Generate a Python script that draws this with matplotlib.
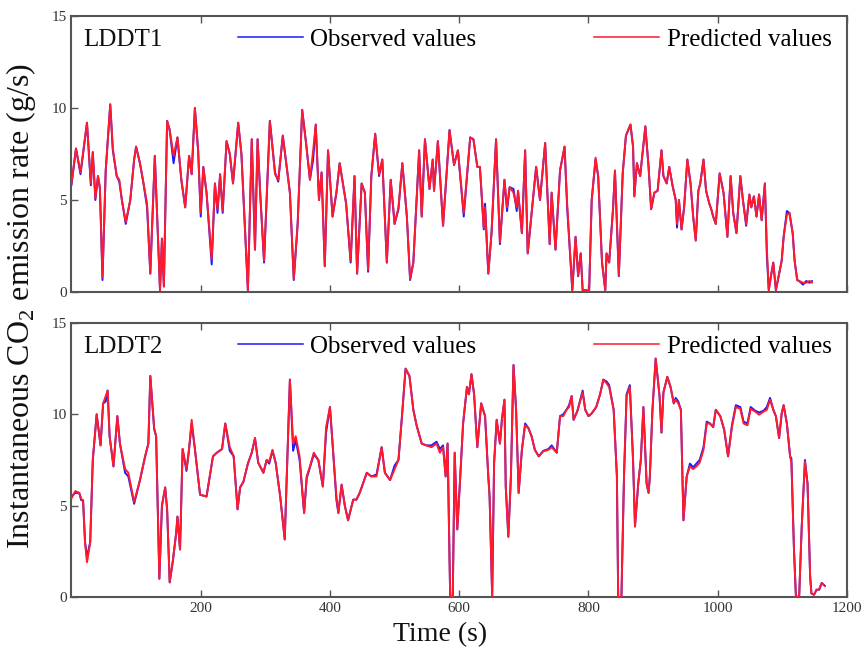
import matplotlib
matplotlib.use("Agg")
import matplotlib.pyplot as plt
from matplotlib.lines import Line2D

plt.rcParams['font.family'] = ['Liberation Serif', 'DejaVu Serif']
plt.rcParams['mathtext.fontset'] = 'custom'
plt.rcParams['mathtext.rm'] = 'Liberation Serif'

# ---- LDDT1 ----
t1 = [0, 7, 14, 24, 30, 33, 37, 41, 44, 48,
      53, 60, 64, 70, 74, 78, 84, 91, 97, 100,
      106, 111, 117, 122, 129, 137, 140, 143, 148, 152,
      158, 164, 170, 176, 182, 186, 191, 196, 200, 204,
      209, 217, 222, 226, 230, 234, 240, 245, 250, 258,
      263, 273, 279, 284, 288, 292, 298, 307, 315, 320,
      327, 333, 338, 344, 350, 357, 363, 369, 374, 378,
      383, 387, 392, 397, 404, 410, 415, 425, 432, 438,
      442, 449, 454, 459, 464, 470, 476, 481, 488, 494,
      500, 506, 512, 519, 524, 529, 538, 542, 547, 554,
      559, 561, 567, 575, 585, 592, 598, 607, 617, 622,
      628, 632, 638, 640, 645, 650, 657, 663, 670, 674,
      678, 684, 689, 691, 697, 702, 706, 711, 719, 725,
      733, 740, 743, 749, 756, 763, 767, 775, 780, 784,
      788, 791, 797, 801, 805, 811, 815, 821, 826, 828,
      832, 838, 841, 847, 853, 858, 865, 869, 871, 875,
      880, 888, 893, 897, 902, 907, 913, 916, 921, 925,
      930, 935, 937, 940, 944, 948, 953, 958, 962, 966,
      970, 973, 978, 982, 987, 990, 993, 997, 1003, 1009,
      1015, 1020, 1024, 1029, 1035, 1039, 1044, 1049, 1052, 1056,
      1060, 1064, 1068, 1073, 1076, 1079, 1083, 1086, 1090, 1095,
      1099, 1102, 1107, 1111, 1116, 1119, 1123, 1126, 1132, 1137,
      1142, 1146]

obs1 = [5.8, 7.8, 6.4, 9.2, 5.8, 7.6, 5.0, 6.3, 5.6, 0.65,
        6.6, 10.2, 7.7, 6.3, 6.0, 5.0, 3.7, 5.0, 7.2, 7.9,
        7.0, 6.0, 4.6, 1.0, 7.4, 0.1, 2.9, 0.3, 9.3, 8.8,
        7.0, 8.4, 6.1, 4.6, 7.4, 6.4, 10.0, 7.7, 4.1, 6.8,
        5.4, 1.5, 5.9, 4.3, 6.4, 4.3, 8.2, 7.5, 5.9, 9.2,
        7.5, 0.1, 8.3, 2.3, 8.3, 5.4, 1.6, 9.3, 6.5, 6.0,
        8.5, 6.8, 5.4, 0.65, 3.7, 9.9, 8.1, 6.1, 7.2, 9.1,
        5.0, 6.5, 1.4, 7.7, 4.1, 5.4, 7.0, 4.8, 1.6, 6.3,
        1.0, 5.9, 5.4, 1.1, 6.3, 8.6, 6.3, 7.2, 1.6, 6.1,
        3.7, 4.5, 7.0, 4.1, 0.65, 1.6, 7.7, 4.1, 8.3, 5.6,
        7.2, 5.5, 8.2, 3.6, 8.8, 6.9, 7.7, 4.1, 8.4, 8.3,
        6.8, 6.8, 3.4, 4.8, 1.0, 3.2, 8.3, 2.6, 6.1, 4.4,
        5.7, 5.6, 4.4, 5.5, 3.2, 7.7, 2.1, 3.9, 6.8, 5.0,
        8.1, 2.6, 5.4, 2.3, 6.6, 7.9, 4.6, 0.1, 3.0, 0.86,
        2.1, 0.1, 0.1, 0.0, 5.0, 7.2, 6.3, 1.6, 0.1, 2.1,
        1.6, 4.5, 6.6, 0.86, 6.45, 8.5, 9.1, 7.9, 5.2, 7.0,
        6.3, 9.0, 6.8, 4.5, 5.4, 5.5, 7.7, 6.3, 5.9, 6.8,
        5.8, 5.0, 3.5, 5.0, 3.4, 4.6, 7.2, 5.9, 4.1, 2.8,
        5.5, 5.9, 7.2, 5.5, 4.8, 4.5, 4.1, 3.7, 6.45, 5.4,
        3.0, 6.3, 4.3, 3.2, 6.3, 5.0, 3.6, 5.3, 4.6, 5.2,
        4.1, 5.3, 3.9, 5.9, 2.0, 0.1, 1.0, 1.6, 0.1, 1.0,
        1.7, 3.0, 4.4, 4.3, 3.2, 1.7, 0.65, 0.6, 0.4, 0.6,
        0.5, 0.6]

pred1 = [5.9, 7.8, 6.5, 9.2, 5.9, 7.6, 5.1, 6.3, 5.7, 0.8,
         6.6, 10.2, 7.8, 6.3, 6.1, 5.0, 3.8, 5.0, 7.2, 7.9,
         7.0, 6.0, 4.8, 1.0, 7.4, 0.1, 2.9, 0.3, 9.3, 8.8,
         7.4, 8.4, 6.1, 4.6, 7.4, 6.4, 10.0, 7.7, 4.3, 6.8,
         5.4, 1.8, 5.9, 4.5, 6.4, 4.4, 8.2, 7.5, 5.9, 9.2,
         7.5, 0.1, 8.3, 2.3, 8.3, 5.4, 1.7, 9.3, 6.4, 6.1,
         8.5, 6.8, 5.4, 0.7, 3.7, 9.9, 8.1, 6.1, 7.7, 9.1,
         5.0, 6.5, 1.4, 7.7, 4.1, 5.4, 7.0, 4.8, 1.7, 6.3,
         1.0, 5.9, 5.4, 1.2, 6.3, 8.6, 6.4, 7.2, 1.6, 6.1,
         3.7, 4.6, 7.0, 4.1, 0.7, 1.6, 7.7, 4.1, 8.3, 5.6,
         7.2, 5.5, 8.2, 3.6, 8.8, 6.9, 7.7, 4.3, 8.4, 8.3,
         6.8, 6.8, 3.5, 4.6, 1.0, 3.2, 8.3, 2.7, 6.1, 4.6,
         5.7, 5.4, 4.6, 5.5, 3.2, 7.7, 2.1, 3.9, 6.8, 5.0,
         8.1, 2.6, 5.4, 2.3, 6.6, 7.9, 4.8, 0.1, 3.0, 0.9,
         2.1, 0.1, 0.1, 0.0, 5.0, 7.3, 6.3, 1.6, 0.1, 2.1,
         1.6, 4.5, 6.6, 0.9, 6.45, 8.5, 9.1, 7.9, 5.2, 7.0,
         6.3, 9.0, 6.8, 4.5, 5.4, 5.5, 7.7, 6.3, 5.9, 6.8,
         5.8, 5.0, 3.7, 5.0, 3.4, 4.6, 7.2, 5.9, 4.1, 2.8,
         5.5, 5.9, 7.2, 5.5, 4.8, 4.5, 4.1, 3.7, 6.45, 5.4,
         3.0, 6.3, 4.3, 3.2, 6.3, 5.0, 3.7, 5.3, 4.6, 5.2,
         4.1, 5.3, 3.9, 5.9, 2.4, 0.1, 1.0, 1.6, 0.1, 1.0,
         1.7, 3.0, 4.2, 4.3, 3.2, 1.7, 0.65, 0.6, 0.5, 0.5,
         0.6, 0.5]

# ---- LDDT2 ----
t2 = [0, 6, 12, 15, 18, 21, 24, 29, 33, 39,
      45, 49, 53, 56, 59, 65, 71, 75, 83, 88,
      97, 106, 114, 119, 122, 128, 131, 136, 140, 145,
      148, 152, 157, 162, 164, 168, 172, 178, 182, 186,
      191, 199, 209, 219, 225, 233, 238, 245, 251, 257,
      261, 266, 273, 279, 284, 289, 297, 302, 306, 311,
      316, 323, 330, 338, 343, 347, 353, 360, 364, 369,
      375, 382, 389, 394, 400, 405, 410, 413, 418, 423,
      428, 436, 441, 446, 457, 464, 472, 480, 485, 493,
      500, 506, 511, 517, 523, 529, 534, 542, 549, 557,
      565, 570, 575, 579, 582, 586, 590, 593, 597, 601,
      606, 612, 615, 619, 623, 628, 634, 640, 645, 647,
      651, 654, 658, 663, 666, 670, 672, 676, 680, 684,
      688, 692, 697, 702, 707, 712, 717, 723, 730, 738,
      743, 751, 756, 761, 766, 770, 774, 777, 783, 791,
      795, 800, 805, 812, 818, 823, 828, 832, 839, 844,
      846, 851, 855, 859, 864, 869, 872, 877, 881, 885,
      890, 893, 895, 899, 904, 910, 913, 916, 922, 927,
      932, 935, 939, 943, 947, 952, 957, 962, 967, 972,
      978, 983, 988, 993, 997, 1004, 1010, 1016, 1022, 1028,
      1035, 1040, 1046, 1051, 1058, 1064, 1071, 1076, 1081, 1086,
      1090, 1095, 1099, 1102, 1107, 1112, 1114, 1118, 1121, 1126,
      1130, 1135, 1139, 1143, 1145, 1149, 1153, 1157, 1161, 1166]

obs2 = [5.5, 5.7, 5.7, 5.3, 5.3, 3.0, 2.2, 3.0, 7.5, 10.0,
        8.3, 10.6, 10.7, 11.3, 8.8, 7.15, 9.9, 8.4, 6.8, 6.6,
        5.1, 6.4, 7.7, 8.4, 12.1, 9.2, 8.8, 1.0, 5.0, 6.0,
        4.8, 0.8, 2.0, 3.5, 4.4, 2.6, 8.1, 6.9, 8.1, 9.5,
        8.1, 5.6, 5.5, 7.7, 7.9, 8.1, 9.5, 8.0, 7.7, 4.8,
        6.0, 6.3, 7.3, 7.9, 8.7, 7.35, 6.8, 7.5, 7.3, 8.0,
        7.35, 5.5, 3.15, 11.9, 8.0, 8.6, 7.5, 4.6, 6.5, 7.1,
        7.8, 7.5, 6.05, 9.0, 10.4, 7.9, 5.3, 4.6, 6.15, 5.0,
        4.2, 5.33, 5.33, 5.7, 6.8, 6.6, 6.7, 8.2, 6.8, 6.4,
        7.2, 7.5, 9.7, 12.5, 12.1, 10.25, 9.4, 8.4, 8.3, 8.3,
        8.5, 8.1, 8.3, 6.6, 8.4, 0.03, 0.0, 7.9, 3.7, 6.2,
        9.5, 11.5, 11.1, 12.2, 11.1, 8.2, 10.6, 9.9, 6.6, 5.5,
        0.03, 7.35, 9.7, 8.4, 9.7, 10.8, 6.05, 3.3, 6.6, 12.7,
        10.25, 5.7, 8.06, 9.5, 9.25, 8.8, 8.06, 7.7, 8.0, 8.1,
        8.3, 7.9, 9.9, 10.0, 10.25, 10.5, 11.0, 9.7, 10.2, 11.3,
        10.25, 9.9, 10.05, 10.4, 11.1, 11.9, 11.8, 11.6, 10.25, 6.6,
        0.0, 0.0, 6.6, 11.1, 11.6, 7.5, 3.86, 6.2, 7.5, 10.4,
        6.2, 5.7, 6.6, 10.25, 13.05, 11.0, 9.0, 11.2, 12.05, 11.5,
        10.6, 10.9, 10.7, 10.25, 4.2, 6.6, 7.3, 7.1, 7.3, 7.5,
        8.2, 9.6, 9.5, 9.3, 10.25, 9.9, 9.15, 7.7, 9.4, 10.5,
        10.4, 9.6, 9.5, 10.4, 10.2, 10.1, 10.2, 10.4, 10.9, 10.25,
        9.9, 8.7, 10.05, 10.5, 9.5, 7.7, 7.6, 2.6, 0.03, 0.0,
        3.86, 7.5, 6.2, 1.13, 0.2, 0.12, 0.4, 0.4, 0.77, 0.6]

pred2 = [5.4, 5.8, 5.7, 5.4, 5.2, 3.0, 1.9, 3.0, 7.5, 10.0,
         8.3, 10.6, 11.0, 11.3, 8.8, 7.15, 9.9, 8.4, 7.0, 6.8,
         5.2, 6.4, 7.7, 8.4, 12.1, 9.2, 8.8, 1.0, 5.0, 6.0,
         4.8, 0.8, 2.0, 3.5, 4.4, 2.6, 8.1, 7.0, 8.1, 9.7,
         8.1, 5.6, 5.5, 7.7, 7.9, 8.1, 9.5, 8.2, 7.7, 4.8,
         6.0, 6.3, 7.3, 7.9, 8.7, 7.35, 6.8, 7.5, 7.4, 8.06,
         7.35, 5.5, 3.15, 11.9, 8.4, 8.8, 7.7, 4.6, 6.6, 7.15,
         7.9, 7.5, 6.05, 9.3, 10.4, 7.9, 5.5, 4.6, 6.15, 5.0,
         4.2, 5.33, 5.33, 5.7, 6.8, 6.6, 6.6, 8.2, 6.8, 6.4,
         7.0, 7.5, 9.7, 12.5, 12.1, 10.25, 9.4, 8.4, 8.3, 8.2,
         8.4, 7.9, 8.2, 6.6, 8.4, 0.03, 0.0, 7.9, 3.7, 6.2,
         9.5, 11.5, 11.1, 12.2, 11.1, 8.2, 10.6, 9.9, 6.6, 5.5,
         0.03, 7.35, 9.7, 8.4, 9.7, 10.8, 6.05, 3.3, 6.6, 12.7,
         10.25, 5.7, 8.06, 9.4, 9.25, 8.8, 8.06, 7.7, 7.97, 8.06,
         8.2, 7.9, 9.9, 9.9, 10.25, 10.4, 11.0, 9.7, 10.2, 11.2,
         10.25, 9.9, 10.05, 10.4, 11.1, 11.9, 11.7, 11.5, 10.25, 6.6,
         0.0, 0.0, 6.6, 11.0, 11.5, 7.5, 3.86, 6.2, 7.5, 10.4,
         6.2, 5.7, 6.6, 10.25, 13.05, 11.0, 9.0, 11.2, 12.05, 11.5,
         10.6, 10.8, 10.6, 10.25, 4.2, 6.6, 7.15, 7.0, 7.15, 7.35,
         8.06, 9.5, 9.5, 9.3, 10.25, 9.9, 9.15, 7.7, 9.3, 10.4,
         10.3, 9.5, 9.4, 10.3, 10.15, 9.98, 10.15, 10.25, 10.8, 10.25,
         9.9, 8.7, 10.05, 10.5, 9.5, 7.7, 7.35, 2.6, 0.03, 0.0,
         3.86, 7.4, 6.2, 1.13, 0.2, 0.12, 0.4, 0.4, 0.77, 0.6]

panel_names = ["LDDT1", "LDDT2"]
series_labels = ["Observed values", "Predicted values"]
x_ticks = [200, 400, 600, 800, 1000, 1200]
y_ticks = [0, 5, 10, 15]

BLUE = "#1a1aff"
RED = "#ff1a2e"
SPINE = "#555555"

fig = plt.figure(figsize=(8.61, 6.62), dpi=100)
ax1 = fig.add_axes([0.0830, 0.5589, 0.9007, 0.4169])
ax2 = fig.add_axes([0.0830, 0.0982, 0.9007, 0.4139])

panels = [(ax1, t1, obs1, pred1, panel_names[0]),
          (ax2, t2, obs2, pred2, panel_names[1])]

for ax, t, obs, pred, name in panels:
    ax.plot(t, obs, color=BLUE, lw=1.4, zorder=2,
            solid_joinstyle='round', solid_capstyle='round')
    ax.plot(t, pred, color=RED, lw=1.4, zorder=3,
            solid_joinstyle='round', solid_capstyle='round')
    ax.set_xlim(0, 1200)
    ax.set_ylim(0, 15)
    ax.set_xticks(x_ticks)
    ax.set_yticks(y_ticks)
    ax.tick_params(direction='in', top=True, right=False, length=5,
                   width=1.0, color=SPINE, labelsize=11, labelcolor="#333333")
    for s in ax.spines.values():
        s.set_color(SPINE)
        s.set_linewidth(1.5)
    ax.text(0.015, 0.913, name, transform=ax.transAxes, fontsize=18,
            va='center', ha='left', color='#111111')
    handles = [Line2D([], [], color=BLUE, lw=1.1),
               Line2D([], [], color=RED, lw=1.1)]
    ax.legend(handles, series_labels, loc='center right',
              bbox_to_anchor=(0.980, 0.915), ncol=2, frameon=False,
              fontsize=18, handlelength=2.6, handletextpad=0.3,
              columnspacing=4.7, borderpad=0, borderaxespad=0)

ax1.tick_params(labelbottom=False)

fig.text(0.024, 0.537, "Instantaneous CO$_2$ emission rate (g/s)",
         rotation=90, ha='center', va='center', fontsize=23, color='#111111')
fig.text(0.511, 0.041, "Time (s)", ha='center', va='center',
         fontsize=20, color='#111111')

fig.savefig("out.png", dpi=100)
